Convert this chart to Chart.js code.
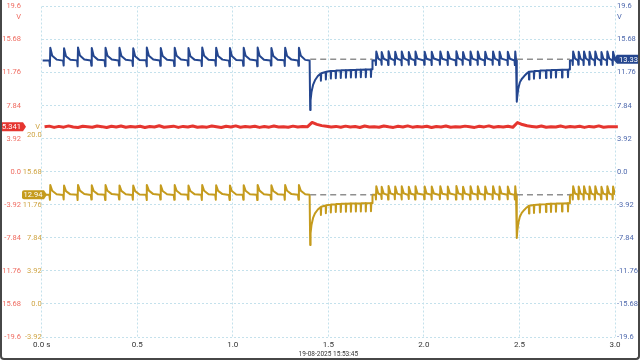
<!DOCTYPE html>
<html>
<head>
<meta charset="utf-8">
<script src="https://cdn.jsdelivr.net/npm/chart.js@4.4.1/dist/chart.umd.min.js"></script>
<style>
  html, body { margin: 0; padding: 0; background: #fff; }
  #wrap { position: relative; width: 640px; height: 360px; }
  #frame {
    position: absolute; left: 0; top: 0; width: 640px; height: 360px;
    box-sizing: border-box; border: 2px solid #474747; border-top: none;
    border-radius: 0 0 4px 4px; pointer-events: none;
  }
</style>
</head>
<body>
<div id="wrap">
  <canvas id="scope" width="640" height="360"></canvas>
  <div id="frame"></div>
</div>
<script>
const FONT = "Roboto, sans-serif";

// ─── Axis ticks ───────────────────────────────────────────────────────────────
const voltTicks = [-19.6, -15.68, -11.76, -7.84, -3.92, 0, 3.92, 7.84, 11.76, 15.68, 19.6];
const goldTicks = [-3.92, 0, 3.92, 7.84, 11.76, 15.68, 20.0];
const timeTicks = [0, 0.5, 1, 1.5, 2, 2.5, 3];
const timeTickLabels = ['0.0 s', '0.5', '1.0', '1.5', '2.0', '2.5', '3.0'];
const captureStamp = '19-08-2025 15:53:45';

// readout badges (V)
const redReadout = 5.341, goldReadout = 12.94, blueReadout = 13.33;

// ─── Blue / gold traces (shared sample times, s) ─────────────────────────────
// run 1: slow ripple, one spike every ~72 ms
const tRun1 = [0.005,
  0.040,0.043,0.045,0.055,0.078,  0.112,0.115,0.117,0.127,0.150,
  0.185,0.188,0.190,0.200,0.223,  0.257,0.260,0.262,0.272,0.295,
  0.329,0.332,0.334,0.344,0.367,  0.402,0.405,0.407,0.417,0.440,
  0.474,0.477,0.479,0.489,0.512,  0.546,0.549,0.551,0.561,0.584,
  0.618,0.621,0.623,0.633,0.656,  0.691,0.694,0.696,0.706,0.729,
  0.763,0.766,0.768,0.778,0.801,  0.835,0.838,0.840,0.850,0.873,
  0.908,0.911,0.913,0.923,0.946,  0.980,0.983,0.985,0.995,1.018,
  1.052,1.055,1.057,1.067,1.090,  1.125,1.128,1.130,1.140,1.163,
  1.197,1.200,1.202,1.212,1.235,  1.269,1.272,1.274,1.284,1.307,
  1.341,1.344,1.346,1.356,1.379];
const blueRun1 = [13.2,
  13.22,12.55,14.7,13.75,13.3,   13.18,12.6,14.65,13.7,13.28,
  13.21,12.5,14.75,13.78,13.32,  13.19,12.58,14.68,13.72,13.27,
  13.23,12.52,14.72,13.76,13.3,  13.2,12.6,14.7,13.74,13.29,
  13.18,12.55,14.66,13.7,13.26,  13.22,12.5,14.74,13.77,13.31,
  13.2,12.57,14.69,13.73,13.28,  13.19,12.53,14.72,13.75,13.3,
  13.21,12.6,14.67,13.71,13.27,  13.2,12.54,14.73,13.76,13.29,
  13.22,12.58,14.7,13.74,13.3,   13.18,12.52,14.68,13.72,13.26,
  13.21,12.56,14.71,13.75,13.3,  13.2,12.5,14.74,13.77,13.28,
  13.19,12.59,14.69,13.73,13.29, 13.22,12.55,14.7,13.74,13.3,
  13.2,12.57,14.72,13.76,13.27];
const goldRun1 = [12.94,
  12.96,12.35,14.1,13.42,13.02,  12.92,12.4,14.05,13.38,13.0,
  12.95,12.32,14.12,13.44,13.04, 12.93,12.38,14.08,13.4,13.0,
  12.96,12.34,14.1,13.43,13.03,  12.94,12.4,14.06,13.41,13.01,
  12.92,12.36,14.04,13.38,12.99, 12.95,12.33,14.12,13.44,13.03,
  12.94,12.38,14.08,13.4,13.01,  12.93,12.35,14.1,13.42,13.02,
  12.95,12.4,14.05,13.39,13.0,   12.94,12.34,14.11,13.43,13.02,
  12.96,12.37,14.08,13.41,13.03, 12.92,12.33,14.06,13.39,12.99,
  12.95,12.36,14.09,13.42,13.02, 12.94,12.32,14.12,13.44,13.01,
  12.93,12.39,14.07,13.4,13.02,  12.96,12.35,14.1,13.42,13.03,
  12.94,12.37,14.11,13.43,13.0];

// dip 1: load step, recovery with fast downward ticks
const tDip1 = [1.402,1.405,1.407,1.412,1.420,1.430,1.445,
  1.460,1.461,1.463,  1.486,1.487,1.489,  1.512,1.513,1.515,
  1.538,1.539,1.541,  1.564,1.565,1.567,  1.591,1.592,1.594,
  1.617,1.618,1.620,  1.643,1.644,1.646,  1.669,1.670,1.672,
  1.695,1.696,1.698,  1.722,1.723,1.725,  1.729];
const blueDip1 = [13.2,7.32,8.5,9.5,10.3,10.85,11.35,
  11.65,10.8,11.68,   11.84,10.95,11.86,  11.94,11.05,11.95,
  11.99,11.1,12.0,    12.02,11.12,12.03,  12.05,11.15,12.05,
  12.07,11.17,12.07,  12.08,11.18,12.09,  12.1,11.2,12.1,
  12.12,11.22,12.12,  12.14,11.24,12.14,  12.15];
const goldDip1 = [12.94,6.99,8.4,9.4,10.2,10.75,11.2,
  11.5,10.55,11.52,   11.68,10.75,11.7,   11.78,10.85,11.8,
  11.83,10.9,11.85,   11.86,10.92,11.87,  11.88,10.94,11.88,
  11.9,10.95,11.9,    11.91,10.96,11.92,  11.92,10.97,11.93,
  11.93,10.98,11.94,  11.95,11.0,11.95,   11.95];

// run 2: fast ripple
const tRun2 = [1.731,
  1.747,1.749,1.751,1.761,  1.776,1.778,1.780,1.790,  1.811,1.813,1.815,1.825,
  1.846,1.848,1.850,1.860,  1.881,1.883,1.885,1.895,  1.918,1.920,1.922,1.932,
  1.952,1.954,1.956,1.966,  2.000,2.002,2.004,2.014,  2.038,2.040,2.042,2.052,
  2.082,2.084,2.086,2.096,  2.122,2.124,2.126,2.136,  2.166,2.168,2.170,2.180,
  2.201,2.203,2.205,2.215,  2.240,2.242,2.244,2.254,  2.279,2.281,2.283,2.293,
  2.317,2.319,2.321,2.331,  2.358,2.360,2.362,2.372,  2.392,2.394,2.396,2.406,
  2.436,2.438,2.440,2.450,  2.474,2.476,2.478,2.482];
const blueRun2 = [13.22,
  13.2,12.65,14.25,13.42,   13.21,12.7,14.2,13.4,     13.19,12.66,14.28,13.43,
  13.22,12.68,14.22,13.41,  13.2,12.64,14.26,13.44,   13.18,12.7,14.2,13.4,
  13.21,12.66,14.27,13.42,  13.2,12.68,14.24,13.41,   13.22,12.65,14.22,13.43,
  13.19,12.7,14.26,13.4,    13.21,12.67,14.23,13.42,  13.2,12.64,14.28,13.44,
  13.22,12.69,14.21,13.41,  13.18,12.66,14.25,13.42,  13.21,12.68,14.27,13.4,
  13.2,12.65,14.22,13.43,   13.22,12.7,14.26,13.41,   13.19,12.66,14.24,13.42,
  13.21,12.67,14.23,13.4,   13.2,12.65,14.27,13.3];
const goldRun2 = [12.95,
  12.94,12.4,13.95,13.1,    12.95,12.44,13.9,13.08,   12.93,12.38,13.98,13.12,
  12.96,12.42,13.92,13.09,  12.94,12.39,13.96,13.11,  12.92,12.44,13.9,13.08,
  12.95,12.4,13.97,13.1,    12.94,12.42,13.94,13.09,  12.96,12.38,13.92,13.11,
  12.93,12.44,13.96,13.08,  12.95,12.41,13.93,13.1,   12.94,12.38,13.98,13.12,
  12.96,12.43,13.91,13.09,  12.92,12.4,13.95,13.1,    12.95,12.42,13.97,13.08,
  12.94,12.39,13.92,13.11,  12.96,12.44,13.96,13.09,  12.93,12.4,13.94,13.1,
  12.95,12.41,13.93,13.08,  12.94,12.39,13.97,13.0];

// dip 2
const tDip2 = [2.485,2.487,2.489,2.494,2.502,2.512,2.525,2.538,
  2.549,2.550,2.552,  2.575,2.576,2.578,  2.606,2.607,2.609,  2.638,2.639,2.641,
  2.664,2.665,2.667,  2.690,2.691,2.693,  2.722,2.723,2.725,  2.753,2.754,2.756,
  2.762];
const blueDip2 = [13.2,8.31,9.0,9.9,10.6,11.0,11.35,11.65,
  11.85,10.95,11.86,  11.93,11.03,11.94,  11.99,11.1,12.0,    12.02,11.12,12.03,
  12.05,11.15,12.06,  12.07,11.17,12.08,  12.09,11.19,12.1,   12.11,11.21,12.12,
  12.13];
const goldDip2 = [12.94,7.82,8.7,9.6,10.35,10.8,11.15,11.45,
  11.65,10.72,11.66,  11.74,10.8,11.75,   11.8,10.85,11.81,   11.84,10.9,11.85,
  11.87,10.92,11.88,  11.89,10.94,11.9,   11.91,10.96,11.92,  11.93,10.98,11.94,
  11.95];

// run 3
const tRun3 = [2.764,
  2.777,2.779,2.781,2.791,  2.806,2.808,2.810,2.820,  2.834,2.836,2.838,2.848,
  2.863,2.865,2.867,2.877,  2.893,2.895,2.897,2.907,  2.925,2.927,2.929,2.939,
  2.956,2.958,2.960,2.970,  2.986,2.988,2.990,3.0];
const blueRun3 = [13.22,
  13.2,12.66,14.25,13.42,   13.21,12.7,14.22,13.4,    13.19,12.65,14.27,13.43,
  13.22,12.68,14.23,13.41,  13.2,12.64,14.26,13.42,   13.18,12.69,14.21,13.4,
  13.21,12.66,14.25,13.42,  13.2,12.67,14.24,13.33];
const goldRun3 = [12.95,
  12.94,12.4,13.95,13.1,    12.95,12.43,13.92,13.08,  12.93,12.39,13.97,13.11,
  12.96,12.41,13.93,13.09,  12.94,12.38,13.96,13.1,   12.92,12.43,13.91,13.08,
  12.95,12.4,13.95,13.1,    12.94,12.41,13.94,12.94];

// ─── Red trace, sampled every 25 ms from 15 ms ───────────────────────────────
const redStart = 0.015, redStep = 0.025;
const redV = [
  5.33,5.41,5.26,5.38,5.29,5.44,5.31,5.25,5.4,5.34,
  5.28,5.42,5.35,5.24,5.39,5.3,5.43,5.27,5.36,5.32,
  5.4,5.25,5.37,5.3,5.45,5.28,5.34,5.41,5.26,5.38,
  5.31,5.43,5.27,5.35,5.29,5.42,5.33,5.25,5.39,5.3,
  5.44,5.28,5.36,5.32,5.4,5.26,5.37,5.29,5.43,5.31,
  5.35,5.27,5.41,5.3,5.38,5.33,5.85,5.62,5.47,5.4,
  5.32,5.38,5.27,5.41,5.3,5.36,5.25,5.42,5.31,5.35,
  5.28,5.43,5.33,5.26,5.39,5.3,5.44,5.29,5.36,5.32,
  5.4,5.25,5.37,5.31,5.42,5.27,5.35,5.3,5.41,5.33,
  5.26,5.39,5.32,5.44,5.28,5.36,5.3,5.4,5.27,5.84,
  5.6,5.46,5.38,5.31,5.42,5.27,5.35,5.3,5.43,5.29,
  5.37,5.32,5.4,5.26,5.38,5.31,5.44,5.28,5.35,5.33,5.34];

// ─── Dashed pre-step reference levels ────────────────────────────────────────
const refT = [1.405, 1.731, 1.9, 2.487, 2.764];
const refBlue = [13.33, 13.33, null, 13.33, 13.33];
const refGold = [12.94, 12.94, null, 12.94, 12.94];

// ─── Build ────────────────────────────────────────────────────────────────────
const times = [...tRun1, ...tDip1, ...tRun2, ...tDip2, ...tRun3];
const blueV = [...blueRun1, ...blueDip1, ...blueRun2, ...blueDip2, ...blueRun3];
const goldV = [...goldRun1, ...goldDip1, ...goldRun2, ...goldDip2, ...goldRun3];
const redT  = redV.map((_, i) => +(redStart + i * redStep).toFixed(3));

const pts = (ts, vs) => ts.map((t, i) => ({ x: t, y: vs[i] }));

function fmtV(v) {
    const r = Math.round(v * 100) / 100;
    return Number.isInteger(r) ? r.toFixed(1) : String(r);
}
const fixTicks = list => scale => { scale.ticks = list.map(v => ({ value: v })); };

const RED = '#e5352f', GOLD = '#c59b1d', BLUE = '#24468f';
const RED_TXT = '#ef6c61', GOLD_TXT = '#cfa443', BLUE_TXT = '#4d68ad';
const GRID = '#c4e1ec';
const TICK_FONT = { family: FONT, size: 7.5 };

function badge(ctx, text, y, x0, x1, tipX, color) {
    const h = 9, r = 2;
    ctx.fillStyle = color;
    ctx.beginPath();
    if (tipX > x1) {
        ctx.moveTo(x0 + r, y - h / 2);
        ctx.lineTo(x1, y - h / 2);
        ctx.lineTo(tipX, y);
        ctx.lineTo(x1, y + h / 2);
        ctx.lineTo(x0 + r, y + h / 2);
        ctx.quadraticCurveTo(x0, y + h / 2, x0, y + h / 2 - r);
        ctx.lineTo(x0, y - h / 2 + r);
        ctx.quadraticCurveTo(x0, y - h / 2, x0 + r, y - h / 2);
    } else {
        ctx.moveTo(tipX, y);
        ctx.lineTo(x0, y - h / 2);
        ctx.lineTo(x1, y - h / 2);
        ctx.lineTo(x1, y + h / 2);
        ctx.lineTo(x0, y + h / 2);
    }
    ctx.closePath();
    ctx.fill();
    ctx.fillStyle = '#fff';
    ctx.textAlign = 'center';
    ctx.textBaseline = 'middle';
    ctx.fillText(text, (x0 + x1) / 2, y + 0.5);
}

const readouts = {
    id: 'readouts',
    afterDatasetsDraw(chart) {
        const { ctx, scales } = chart;
        ctx.save();
        ctx.font = `7.5px ${FONT}`;
        ctx.textBaseline = 'middle';

        // unit labels
        ctx.textAlign = 'right';
        ctx.fillStyle = RED_TXT;
        ctx.fillText('V', 21, scales.yRed.getPixelForValue(19.6) + 10.5);
        ctx.fillStyle = GOLD_TXT;
        ctx.fillText('V', 40, scales.yGold.getPixelForValue(20.0) - 8.5);
        ctx.textAlign = 'left';
        ctx.fillStyle = BLUE_TXT;
        ctx.fillText('V', 617, scales.yBlue.getPixelForValue(19.6) + 11);

        badge(ctx, redReadout.toFixed(3), scales.yRed.getPixelForValue(redReadout), 0, 23, 26, RED);
        badge(ctx, goldReadout.toFixed(2), scales.yGold.getPixelForValue(goldReadout), 22, 44, 47, GOLD);
        badge(ctx, blueReadout.toFixed(2), scales.yBlue.getPixelForValue(blueReadout), 617, 640, 613, BLUE);
        ctx.restore();
    }
};

const lineDefaults = { pointRadius: 0, tension: 0, borderJoinStyle: 'round', fill: false };

new Chart(document.getElementById('scope'), {
    type: 'line',
    data: {
        datasets: [
            { ...lineDefaults, label: 'ref blue', data: pts(refT, refBlue), yAxisID: 'yBlue',
              borderColor: '#8f8f8f', borderWidth: 1.5, borderDash: [6, 4] },
            { ...lineDefaults, label: 'ref gold', data: pts(refT, refGold), yAxisID: 'yGold',
              borderColor: '#8f8f8f', borderWidth: 1.5, borderDash: [6, 4] },
            { ...lineDefaults, label: 'CH3', data: pts(times, blueV), yAxisID: 'yBlue',
              borderColor: BLUE, borderWidth: 2 },
            { ...lineDefaults, label: 'CH2', data: pts(times, goldV), yAxisID: 'yGold',
              borderColor: GOLD, borderWidth: 2 },
            { ...lineDefaults, label: 'CH1', data: pts(redT, redV), yAxisID: 'yRed',
              borderColor: RED, borderWidth: 3, clip: 6 }
        ]
    },
    options: {
        responsive: false,
        animation: false,
        devicePixelRatio: 1,
        events: [],
        layout: { padding: { top: 6.5, left: 0, right: 0, bottom: 0 } },
        plugins: { legend: { display: false }, tooltip: { enabled: false } },
        scales: {
            x: {
                type: 'linear', min: 0, max: 3,
                afterBuildTicks: fixTicks(timeTicks),
                ticks: { callback: (v, i) => timeTickLabels[i], color: '#333',
                         font: { family: FONT, size: 8 }, padding: 3, maxRotation: 0, autoSkip: false },
                grid: { color: GRID, drawTicks: false },
                border: { display: false, dash: [2, 2] },
                title: { display: true, text: captureStamp, color: '#333',
                         font: { family: FONT, size: 6.5 }, padding: { top: 0, bottom: 2 } },
                afterFit: s => { s.height = 23; }
            },
            yRed: {
                position: 'left', weight: 1, min: -19.6, max: 19.6,
                afterBuildTicks: fixTicks(voltTicks),
                ticks: { callback: v => fmtV(v), color: RED_TXT, font: TICK_FONT, padding: 2 },
                grid: { color: GRID, drawTicks: false },
                border: { display: false, dash: [2, 2] },
                afterFit: s => { s.width = 23; }
            },
            yGold: {
                position: 'left', weight: 0, min: -3.92, max: 35.28,
                afterBuildTicks: fixTicks(goldTicks),
                ticks: { callback: v => fmtV(v), color: GOLD_TXT, font: TICK_FONT, padding: 0 },
                grid: { display: false, drawTicks: false },
                border: { display: false },
                afterFit: s => { s.width = 18.7; }
            },
            yBlue: {
                position: 'right', min: -19.6, max: 19.6,
                afterBuildTicks: fixTicks(voltTicks),
                ticks: { callback: v => fmtV(v), color: BLUE_TXT, font: TICK_FONT, padding: 2 },
                grid: { display: false, drawTicks: false },
                border: { display: false },
                afterFit: s => { s.width = 25; }
            }
        }
    },
    plugins: [readouts]
});
</script>
</body>
</html>
